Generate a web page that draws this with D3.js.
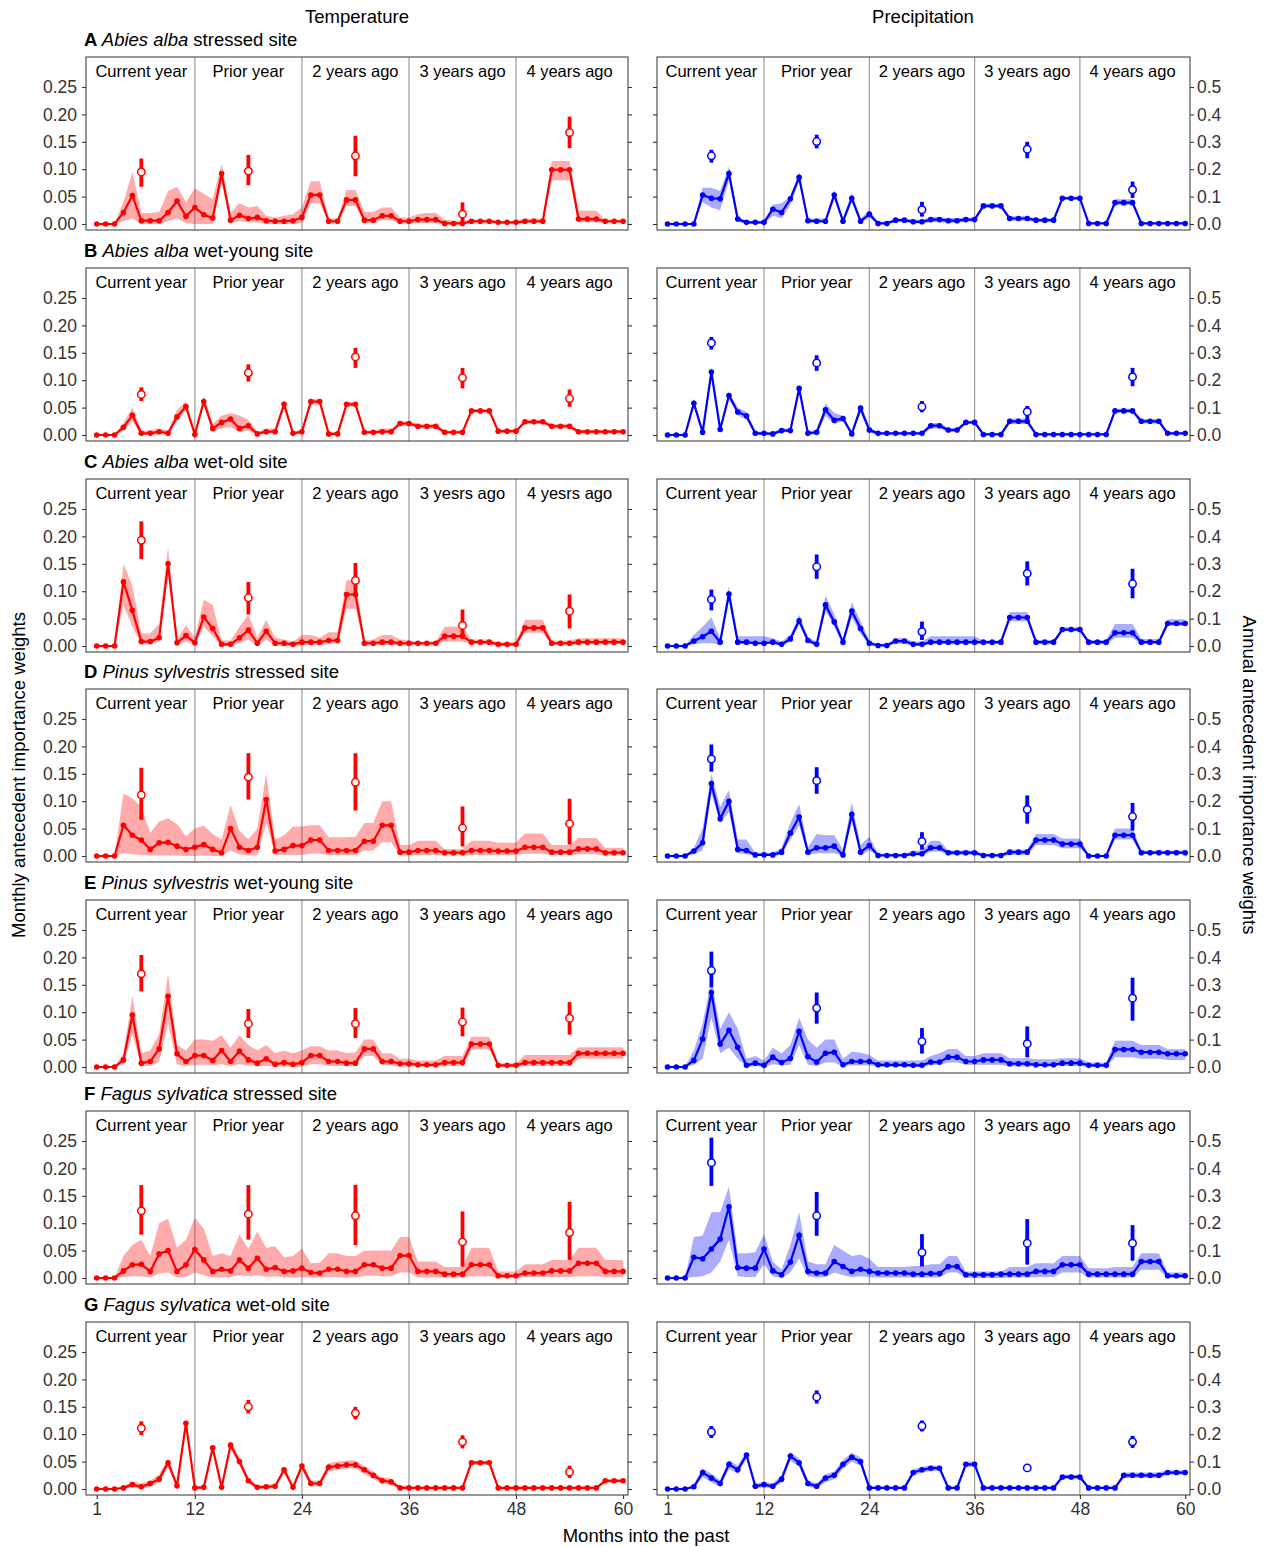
<!DOCTYPE html>
<html><head><meta charset="utf-8">
<script src="https://cdn.jsdelivr.net/npm/d3@7"></script>
<style>body{margin:0;background:#fff;} svg text{font-family:"Liberation Sans",Arial,Helvetica,sans-serif;}</style>
</head><body><svg id="chart" width="1269" height="1547"></svg>
<script>
// ---------------- DATA ----------------
const months = d3.range(1, 61);
const annualMonths = [6, 18, 30, 42, 54];
const xTicks = [1, 12, 24, 36, 48, 60];
const yTicksMonthly = [0, 0.05, 0.10, 0.15, 0.20, 0.25];
const yTicksAnnual = [0, 0.1, 0.2, 0.3, 0.4, 0.5];
const yearLabels = ["Current year", "Prior year", "2 years ago", "3 years ago", "4 years ago"];
const yearLabelsTypo = ["Current year", "Prior year", "2 years ago", "3 yesrs ago", "4 yesrs ago"];
const rowLetters = ["A", "B", "C", "D", "E", "F", "G"];
const rowSpecies = ["Abies alba", "Abies alba", "Abies alba", "Pinus sylvestris", "Pinus sylvestris", "Fagus sylvatica", "Fagus sylvatica"];
const rowSites = ["stressed site", "wet-young site", "wet-old site", "stressed site", "wet-young site", "stressed site", "wet-old site"];
const columnTitles = ["Temperature", "Precipitation"];

// ---- A: Abies alba stressed ----
const tempMeanA = [0,0,0,0.021,0.052,0.006,0.006,0.006,0.021,0.042,0.014,0.030, 0.017,0.011,0.092,0.007,0.016,0.010,0.012,0.006,0.005,0.005,0.006,0.012, 0.053,0.053,0.005,0.005,0.044,0.044,0.007,0.007,0.015,0.015,0.005,0.005, 0.008,0.008,0.008,0.001,0.001,0.001,0.005,0.005,0.005,0.003,0.003,0.003, 0.005,0.005,0.005,0.099,0.099,0.099,0.009,0.009,0.009,0.005,0.005,0.005];
const tempLoA = [0,0,0,0.005,0.01,0,0,0,0.005,0.01,0.002,0, 0,0,0.075,0.002,0.005,0.003,0.003,0,0,0,0,0.002, 0.038,0.038,0.001,0.001,0.033,0.033,0.002,0.002,0.007,0.007,0.001,0.001, 0.002,0.002,0.002,0,0,0,0.001,0.001,0.001,0,0,0, 0.002,0.002,0.002,0.08,0.08,0.08,0.003,0.003,0.003,0.002,0.002,0.002];
const tempHiA = [0.001,0.001,0.001,0.04,0.095,0.02,0.02,0.022,0.06,0.068,0.04,0.065, 0.055,0.045,0.11,0.02,0.038,0.03,0.033,0.015,0.012,0.015,0.018,0.03, 0.078,0.078,0.01,0.01,0.062,0.062,0.022,0.022,0.03,0.03,0.012,0.012, 0.018,0.02,0.02,0.008,0.006,0.006,0.008,0.008,0.008,0.005,0.005,0.005, 0.01,0.01,0.01,0.115,0.115,0.115,0.024,0.024,0.024,0.008,0.008,0.008];
const tempAnnMidA = [0.19,0.193,0.249,0.036,0.334];
const tempAnnLoA = [0.136,0.142,0.174,0.0,0.277];
const tempAnnHiA = [0.239,0.252,0.322,0.079,0.392];
const precMeanA = [0,0,0,0,0.053,0.047,0.046,0.092,0.009,0.003,0.003,0.003, 0.027,0.021,0.046,0.085,0.006,0.005,0.005,0.053,0.005,0.047,0.005,0.018, 0.001,0.001,0.007,0.007,0.004,0.004,0.008,0.008,0.006,0.006,0.008,0.008, 0.033,0.033,0.033,0.010,0.010,0.010,0.007,0.007,0.007,0.047,0.047,0.047, 0.001,0.001,0.001,0.039,0.039,0.039,0.001,0.001,0.001,0.001,0.001,0.001];
const precLoA = [0,0,0,0,0.04,0.03,0.025,0.08,0.004,0,0,0, 0.015,0.01,0.035,0.078,0.002,0.002,0.002,0.045,0.002,0.04,0.002,0.012, 0,0,0.003,0.003,0.001,0.001,0.003,0.003,0.002,0.002,0.004,0.004, 0.029,0.029,0.029,0.006,0.006,0.006,0.003,0.003,0.003,0.044,0.044,0.044, 0,0,0,0.034,0.034,0.034,0,0,0,0,0,0];
const precHiA = [0.001,0.001,0.001,0.001,0.066,0.066,0.06,0.105,0.014,0.005,0.005,0.005, 0.035,0.038,0.05,0.095,0.01,0.01,0.01,0.062,0.01,0.057,0.01,0.025, 0.004,0.004,0.01,0.01,0.008,0.008,0.013,0.013,0.011,0.011,0.012,0.012, 0.037,0.037,0.037,0.014,0.014,0.014,0.01,0.01,0.01,0.05,0.05,0.05, 0.003,0.003,0.003,0.045,0.045,0.045,0.003,0.003,0.003,0.003,0.003,0.003];
const precAnnMidA = [0.249,0.301,0.052,0.273,0.125];
const precAnnLoA = [0.224,0.276,0.027,0.24,0.095];
const precAnnHiA = [0.271,0.326,0.081,0.30,0.155];

// ---- B: Abies alba wet-young ----
const tempMeanB = [0,0,0,0.014,0.036,0.003,0.003,0.006,0.003,0.033,0.052,0.001, 0.061,0.012,0.023,0.029,0.012,0.017,0.002,0.006,0.006,0.056,0.003,0.006, 0.061,0.061,0.002,0.002,0.056,0.056,0.005,0.005,0.006,0.006,0.021,0.021, 0.016,0.016,0.016,0.005,0.005,0.005,0.044,0.044,0.044,0.007,0.007,0.007, 0.024,0.024,0.024,0.016,0.016,0.016,0.006,0.006,0.006,0.006,0.006,0.006];
const tempLoB = [0,0,0,0.008,0.025,0,0,0.002,0.001,0.025,0.045,0, 0.055,0.006,0.012,0.015,0.005,0.008,0,0.003,0.003,0.05,0,0.003, 0.055,0.055,0,0,0.052,0.052,0.002,0.002,0.003,0.003,0.017,0.017, 0.012,0.012,0.012,0.002,0.002,0.002,0.041,0.041,0.041,0.004,0.004,0.004, 0.02,0.02,0.02,0.012,0.012,0.012,0.003,0.003,0.003,0.003,0.003,0.003];
const tempHiB = [0.001,0.001,0.001,0.022,0.05,0.008,0.008,0.012,0.008,0.045,0.062,0.003, 0.072,0.02,0.035,0.04,0.035,0.028,0.006,0.012,0.012,0.065,0.006,0.01, 0.066,0.066,0.005,0.005,0.06,0.06,0.008,0.008,0.012,0.012,0.025,0.025, 0.02,0.02,0.02,0.008,0.008,0.008,0.047,0.047,0.047,0.01,0.01,0.01, 0.028,0.028,0.028,0.02,0.02,0.02,0.009,0.009,0.009,0.009,0.009,0.009];
const tempAnnMidB = [0.148,0.227,0.285,0.209,0.133];
const tempAnnLoB = [0.124,0.195,0.245,0.170,0.103];
const tempAnnHiB = [0.174,0.258,0.318,0.245,0.166];
const precMeanB = [0,0,0,0.058,0.005,0.115,0.010,0.072,0.042,0.035,0.003,0.003, 0.002,0.008,0.008,0.085,0.003,0.005,0.046,0.027,0.030,0.002,0.049,0.009, 0.003,0.003,0.003,0.003,0.003,0.003,0.017,0.017,0.009,0.009,0.023,0.023, 0.001,0.001,0.001,0.025,0.025,0.025,0.001,0.001,0.001,0.001,0.001,0.001, 0.001,0.001,0.001,0.044,0.044,0.044,0.025,0.025,0.025,0.003,0.003,0.003];
const precLoB = [0,0,0,0.052,0.002,0.107,0.006,0.066,0.036,0.028,0,0, 0,0.005,0.005,0.08,0.001,0.001,0.035,0.02,0.025,0,0.04,0.004, 0.001,0.001,0.001,0.001,0.001,0.001,0.012,0.012,0.006,0.006,0.02,0.02, 0,0,0,0.02,0.02,0.02,0,0,0,0,0,0, 0,0,0,0.04,0.04,0.04,0.021,0.021,0.021,0.001,0.001,0.001];
const precHiB = [0.001,0.001,0.001,0.065,0.01,0.125,0.015,0.078,0.05,0.042,0.006,0.006, 0.005,0.012,0.012,0.09,0.008,0.008,0.058,0.04,0.035,0.005,0.057,0.015, 0.005,0.005,0.005,0.005,0.005,0.005,0.022,0.022,0.013,0.013,0.026,0.026, 0.003,0.003,0.003,0.03,0.03,0.03,0.003,0.003,0.003,0.003,0.003,0.003, 0.003,0.003,0.003,0.048,0.048,0.048,0.029,0.029,0.029,0.005,0.005,0.005];
const precAnnMidB = [0.336,0.263,0.103,0.085,0.212];
const precAnnLoB = [0.312,0.234,0.083,0.057,0.178];
const precAnnHiB = [0.358,0.291,0.124,0.106,0.245];

// ---- C: Abies alba wet-old ----
const tempMeanC = [0,0,0,0.117,0.065,0.008,0.008,0.015,0.150,0.006,0.019,0.006, 0.053,0.032,0.003,0.003,0.015,0.029,0.005,0.027,0.005,0.005,0.003,0.007, 0.007,0.007,0.010,0.010,0.094,0.094,0.005,0.005,0.007,0.007,0.005,0.005, 0.005,0.005,0.005,0.018,0.018,0.018,0.007,0.007,0.007,0.003,0.003,0.003, 0.033,0.033,0.033,0.005,0.005,0.005,0.007,0.007,0.007,0.007,0.007,0.007];
const tempLoC = [0,0,0,0.075,0.035,0.003,0.003,0.008,0.13,0.002,0.008,0.002, 0.035,0.018,0,0,0.005,0.012,0,0.012,0,0,0,0.002, 0.002,0.002,0.004,0.004,0.068,0.068,0.001,0.001,0.002,0.002,0.001,0.001, 0.002,0.002,0.002,0.008,0.008,0.008,0.003,0.003,0.003,0,0,0, 0.024,0.024,0.024,0.001,0.001,0.001,0.003,0.003,0.003,0.003,0.003,0.003];
const tempHiC = [0.001,0.001,0.001,0.15,0.11,0.023,0.023,0.04,0.18,0.012,0.038,0.015, 0.085,0.075,0.01,0.01,0.035,0.058,0.015,0.048,0.015,0.012,0.008,0.02, 0.02,0.015,0.025,0.025,0.12,0.12,0.01,0.012,0.02,0.02,0.012,0.01, 0.008,0.008,0.008,0.035,0.035,0.035,0.012,0.012,0.012,0.007,0.007,0.007, 0.048,0.048,0.048,0.01,0.01,0.01,0.014,0.014,0.014,0.014,0.014,0.014];
const tempAnnMidC = [0.386,0.176,0.239,0.075,0.127];
const tempAnnLoC = [0.318,0.115,0.188,0.03,0.064];
const tempAnnHiC = [0.455,0.234,0.303,0.133,0.188];
const precMeanC = [0,0,0,0.009,0.017,0.027,0.007,0.095,0.007,0.007,0.005,0.005, 0.007,0.003,0.013,0.046,0.010,0.003,0.075,0.044,0.007,0.064,0.032,0.005, 0.001,0.001,0.009,0.009,0.003,0.003,0.007,0.007,0.007,0.007,0.007,0.007, 0.007,0.007,0.007,0.052,0.052,0.052,0.007,0.007,0.007,0.030,0.030,0.030, 0.007,0.007,0.007,0.024,0.024,0.024,0.007,0.007,0.007,0.041,0.041,0.041];
const precLoC = [0,0,0,0.003,0.005,0.005,0.002,0.085,0.003,0.003,0.003,0.003, 0.004,0,0.008,0.04,0.006,0,0.065,0.035,0.003,0.052,0.022,0.002, 0,0,0.004,0.004,0,0,0.003,0.003,0.003,0.003,0.003,0.003, 0.003,0.003,0.003,0.045,0.045,0.045,0.003,0.003,0.003,0.027,0.027,0.027, 0.003,0.003,0.003,0.015,0.015,0.015,0.003,0.003,0.003,0.037,0.037,0.037];
const precHiC = [0.001,0.001,0.001,0.02,0.035,0.052,0.015,0.11,0.018,0.018,0.018,0.018, 0.014,0.008,0.02,0.057,0.016,0.008,0.092,0.058,0.012,0.08,0.045,0.01, 0.004,0.004,0.014,0.014,0.008,0.008,0.018,0.018,0.018,0.018,0.018,0.018, 0.01,0.01,0.01,0.062,0.062,0.062,0.011,0.011,0.011,0.034,0.034,0.034, 0.011,0.011,0.011,0.04,0.04,0.04,0.013,0.013,0.013,0.049,0.049,0.049];
const precAnnMidC = [0.17,0.289,0.052,0.265,0.227];
const precAnnLoC = [0.13,0.245,0.022,0.221,0.174];
const precAnnHiC = [0.206,0.334,0.089,0.309,0.282];

// ---- D: Pinus sylvestris stressed ----
const tempMeanD = [0,0,0,0.056,0.038,0.029,0.012,0.024,0.025,0.018,0.012,0.016, 0.021,0.012,0.006,0.050,0.016,0.010,0.016,0.103,0.009,0.012,0.019,0.019, 0.029,0.029,0.010,0.010,0.010,0.010,0.027,0.027,0.056,0.056,0.007,0.007, 0.010,0.010,0.010,0.006,0.006,0.006,0.010,0.010,0.010,0.009,0.009,0.009, 0.016,0.016,0.016,0.007,0.007,0.007,0.013,0.013,0.013,0.006,0.006,0.006];
const tempLoD = [0,0,0,0.005,0.003,0.002,0.001,0.001,0.001,0.001,0,0, 0.001,0,0,0.01,0.003,0.001,0.001,0.06,0.002,0.002,0.002,0.002, 0.004,0.004,0.002,0.002,0.002,0.002,0.01,0.01,0.025,0.025,0.001,0.001, 0.002,0.002,0.002,0.001,0.001,0.001,0.002,0.002,0.002,0.002,0.002,0.002, 0.004,0.004,0.004,0.002,0.002,0.002,0.003,0.003,0.003,0.001,0.001,0.001];
const tempHiD = [0.001,0.001,0.001,0.114,0.105,0.09,0.042,0.063,0.069,0.058,0.036,0.05, 0.055,0.04,0.03,0.093,0.046,0.03,0.05,0.15,0.03,0.038,0.054,0.054, 0.056,0.056,0.034,0.034,0.034,0.035,0.06,0.06,0.1,0.1,0.02,0.02, 0.028,0.028,0.028,0.013,0.013,0.013,0.028,0.028,0.028,0.024,0.024,0.024, 0.041,0.041,0.041,0.02,0.02,0.02,0.033,0.033,0.033,0.015,0.015,0.015];
const tempAnnMidD = [0.223,0.288,0.269,0.102,0.118];
const tempAnnLoD = [0.132,0.206,0.166,0.035,0.042];
const tempAnnHiD = [0.322,0.375,0.375,0.181,0.209];
const precMeanD = [0,0,0,0.009,0.024,0.132,0.068,0.100,0.012,0.010,0.002,0.002, 0.002,0.007,0.042,0.071,0.007,0.015,0.015,0.018,0.002,0.076,0.007,0.019, 0.001,0.001,0.001,0.001,0.004,0.004,0.015,0.015,0.006,0.006,0.006,0.006, 0.001,0.001,0.001,0.007,0.007,0.007,0.029,0.029,0.029,0.022,0.022,0.022, 0,0,0,0.038,0.038,0.038,0.006,0.006,0.006,0.006,0.006,0.006];
const precLoD = [0,0,0,0.003,0.01,0.115,0.06,0.08,0.005,0.003,0,0, 0,0.002,0.03,0.055,0.002,0.005,0.005,0.005,0,0.063,0.002,0.01, 0,0,0,0,0.001,0.001,0.008,0.008,0.002,0.002,0.002,0.002, 0,0,0,0.002,0.002,0.002,0.02,0.02,0.02,0.014,0.014,0.014, 0,0,0,0.03,0.03,0.03,0.003,0.003,0.003,0.003,0.003,0.003];
const precHiD = [0.002,0.002,0.002,0.015,0.05,0.15,0.09,0.12,0.03,0.03,0.006,0.006, 0.006,0.015,0.06,0.095,0.016,0.04,0.038,0.038,0.012,0.098,0.02,0.035, 0.004,0.004,0.004,0.004,0.01,0.01,0.028,0.028,0.01,0.01,0.01,0.01, 0.004,0.004,0.004,0.012,0.012,0.012,0.04,0.04,0.04,0.032,0.032,0.032, 0.002,0.002,0.002,0.05,0.05,0.05,0.01,0.01,0.01,0.01,0.01,0.01];
const precAnnMidD = [0.354,0.275,0.053,0.17,0.144];
const precAnnLoD = [0.308,0.227,0.023,0.118,0.093];
const precAnnHiD = [0.407,0.324,0.087,0.221,0.194];

// ---- E: Pinus sylvestris wet-young ----
const tempMeanE = [0,0,0,0.013,0.095,0.007,0.010,0.033,0.129,0.024,0.010,0.021, 0.021,0.012,0.030,0.010,0.029,0.013,0.007,0.015,0.005,0.008,0.005,0.008, 0.021,0.021,0.010,0.010,0.007,0.007,0.033,0.033,0.010,0.010,0.006,0.006, 0.004,0.004,0.004,0.008,0.008,0.008,0.042,0.042,0.042,0.003,0.003,0.003, 0.008,0.008,0.008,0.008,0.008,0.008,0.025,0.025,0.025,0.025,0.025,0.025];
const tempLoE = [0,0,0,0.005,0.06,0.002,0.002,0.01,0.08,0.005,0.002,0.004, 0.004,0.003,0.005,0.002,0.005,0.003,0.001,0.002,0.001,0.001,0,0.001, 0.005,0.005,0.002,0.002,0.002,0.002,0.02,0.02,0.003,0.003,0.001,0.001, 0.001,0.001,0.001,0.002,0.002,0.002,0.032,0.032,0.032,0,0,0, 0.002,0.002,0.002,0.002,0.002,0.002,0.015,0.015,0.015,0.015,0.015,0.015];
const tempHiE = [0.001,0.001,0.001,0.025,0.13,0.025,0.03,0.06,0.17,0.04,0.03,0.05, 0.05,0.048,0.058,0.035,0.058,0.04,0.03,0.04,0.025,0.03,0.025,0.03, 0.038,0.038,0.03,0.03,0.025,0.027,0.05,0.05,0.025,0.025,0.015,0.015, 0.012,0.012,0.012,0.02,0.02,0.02,0.055,0.055,0.055,0.007,0.007,0.007, 0.022,0.022,0.022,0.022,0.022,0.022,0.036,0.036,0.036,0.036,0.036,0.036];
const tempAnnMidE = [0.34,0.158,0.158,0.164,0.178];
const tempAnnLoE = [0.276,0.106,0.106,0.112,0.118];
const tempAnnHiE = [0.409,0.212,0.215,0.217,0.237];
const precMeanE = [0,0,0,0.012,0.051,0.136,0.042,0.067,0.036,0.003,0.007,0.003, 0.018,0.008,0.016,0.065,0.019,0.009,0.025,0.027,0.004,0.010,0.010,0.010, 0.004,0.004,0.004,0.004,0.003,0.003,0.009,0.009,0.018,0.018,0.010,0.010, 0.013,0.013,0.013,0.006,0.006,0.006,0.004,0.004,0.004,0.007,0.007,0.007, 0.003,0.003,0.003,0.032,0.032,0.032,0.027,0.027,0.027,0.024,0.024,0.024];
const precLoE = [0,0,0,0.004,0.015,0.09,0.025,0.035,0.015,0,0.002,0, 0.005,0.003,0.004,0.04,0.004,0.002,0.008,0.008,0.001,0.003,0.003,0.003, 0,0,0,0,0,0,0.003,0.004,0.008,0.008,0.004,0.004, 0.004,0.004,0.004,0.001,0.001,0.001,0.001,0.001,0.001,0.002,0.002,0.002, 0,0,0,0.018,0.018,0.018,0.015,0.015,0.015,0.013,0.013,0.013];
const precHiE = [0.001,0.001,0.001,0.03,0.08,0.16,0.07,0.1,0.07,0.015,0.02,0.012, 0.035,0.025,0.04,0.09,0.05,0.035,0.05,0.05,0.015,0.028,0.026,0.022, 0.012,0.012,0.012,0.012,0.012,0.012,0.02,0.025,0.033,0.033,0.02,0.02, 0.025,0.025,0.025,0.016,0.016,0.016,0.014,0.014,0.014,0.016,0.016,0.016, 0.008,0.008,0.008,0.048,0.048,0.048,0.04,0.04,0.04,0.033,0.033,0.033];
const precAnnMidE = [0.352,0.215,0.093,0.085,0.251];
const precAnnLoE = [0.291,0.158,0.049,0.035,0.169];
const precAnnHiE = [0.421,0.272,0.142,0.148,0.326];

// ---- F: Fagus sylvatica stressed ----
const tempMeanF = [0,0,0,0.013,0.024,0.025,0.012,0.044,0.050,0.012,0.024,0.052, 0.033,0.012,0.016,0.013,0.033,0.018,0.036,0.016,0.019,0.012,0.013,0.018, 0.010,0.009,0.016,0.016,0.012,0.012,0.024,0.024,0.018,0.018,0.041,0.041, 0.012,0.012,0.012,0.007,0.007,0.007,0.024,0.024,0.024,0.004,0.004,0.004, 0.009,0.009,0.009,0.013,0.013,0.013,0.027,0.027,0.027,0.012,0.012,0.012];
const tempLoF = [0,0,0,0.002,0.003,0.003,0.001,0.008,0.01,0.001,0.002,0.01, 0.005,0.001,0.002,0.002,0.005,0.003,0.005,0.002,0.003,0.001,0.001,0.002, 0.001,0.001,0.002,0.002,0.001,0.001,0.004,0.004,0.003,0.003,0.01,0.01, 0.001,0.001,0.001,0.001,0.001,0.001,0.003,0.003,0.003,0,0,0, 0.002,0.002,0.002,0.002,0.002,0.002,0.003,0.003,0.003,0.002,0.002,0.002];
const tempHiF = [0.001,0.001,0.001,0.04,0.06,0.07,0.04,0.1,0.108,0.055,0.07,0.11, 0.09,0.04,0.045,0.04,0.08,0.053,0.085,0.055,0.058,0.038,0.04,0.054, 0.027,0.028,0.045,0.045,0.04,0.04,0.05,0.05,0.05,0.05,0.075,0.075, 0.03,0.03,0.03,0.02,0.02,0.02,0.055,0.055,0.055,0.012,0.012,0.012, 0.025,0.025,0.025,0.033,0.033,0.033,0.055,0.055,0.055,0.033,0.033,0.033];
const tempAnnMidF = [0.245,0.233,0.227,0.132,0.166];
const tempAnnLoF = [0.158,0.140,0.120,0.041,0.066];
const tempAnnHiF = [0.339,0.339,0.340,0.243,0.278];
const precMeanF = [0,0,0,0.038,0.035,0.053,0.071,0.130,0.019,0.018,0.018,0.053, 0.013,0.006,0.029,0.078,0.012,0.009,0.009,0.030,0.021,0.012,0.016,0.012, 0.009,0.009,0.009,0.009,0.007,0.007,0.008,0.008,0.021,0.021,0.006,0.006, 0.006,0.006,0.007,0.007,0.007,0.007,0.012,0.012,0.012,0.024,0.024,0.024, 0.007,0.007,0.007,0.007,0.007,0.007,0.030,0.030,0.030,0.004,0.004,0.004];
const precLoF = [0,0,0,0.002,0.003,0.01,0.03,0.07,0.003,0.002,0.002,0.025, 0.003,0,0.01,0.035,0.003,0.001,0.002,0.01,0.005,0.002,0.003,0.002, 0.001,0.001,0.001,0.001,0.001,0.001,0.001,0.001,0.01,0.01,0,0, 0,0,0,0.001,0.001,0.001,0.002,0.002,0.002,0.01,0.01,0.01, 0.001,0.001,0.001,0.001,0.001,0.001,0.015,0.015,0.015,0,0,0];
const precHiF = [0.001,0.001,0.001,0.075,0.077,0.12,0.12,0.167,0.045,0.045,0.047,0.08, 0.03,0.015,0.06,0.12,0.03,0.025,0.025,0.06,0.05,0.04,0.043,0.035, 0.02,0.02,0.02,0.02,0.022,0.022,0.025,0.025,0.04,0.04,0.012,0.012, 0.012,0.012,0.012,0.02,0.02,0.02,0.027,0.027,0.027,0.04,0.04,0.04, 0.018,0.018,0.018,0.02,0.02,0.02,0.045,0.045,0.045,0.01,0.01,0.01];
const precAnnMidF = [0.421,0.227,0.093,0.127,0.127];
const precAnnLoF = [0.336,0.154,0.042,0.049,0.063];
const precAnnHiF = [0.512,0.314,0.160,0.215,0.193];

// ---- G: Fagus sylvatica wet-old ----
const tempMeanG = [0,0,0,0.002,0.008,0.004,0.010,0.018,0.048,0.006,0.120,0.002, 0.003,0.075,0.003,0.080,0.050,0.015,0.003,0.004,0.005,0.035,0.003,0.042, 0.010,0.010,0.040,0.042,0.044,0.044,0.035,0.025,0.015,0.013,0.002,0.002, 0.002,0.002,0.002,0.002,0.002,0.002,0.048,0.048,0.048,0.002,0.002,0.002, 0.002,0.002,0.002,0.002,0.002,0.002,0.002,0.002,0.002,0.015,0.015,0.015];
const tempLoG = [0,0,0,0,0.003,0.001,0.004,0.012,0.04,0.002,0.112,0, 0,0.068,0,0.073,0.043,0.01,0,0.001,0.002,0.028,0,0.035, 0.005,0.005,0.033,0.035,0.038,0.038,0.028,0.018,0.01,0.008,0,0, 0,0,0,0,0,0,0.044,0.044,0.044,0,0,0, 0,0,0,0,0,0,0,0,0,0.012,0.012,0.012];
const tempHiG = [0.001,0.001,0.001,0.005,0.014,0.01,0.016,0.026,0.056,0.01,0.128,0.005, 0.006,0.082,0.006,0.087,0.057,0.021,0.006,0.008,0.009,0.042,0.006,0.049, 0.015,0.016,0.047,0.05,0.052,0.052,0.042,0.032,0.021,0.019,0.005,0.005, 0.004,0.004,0.004,0.004,0.004,0.004,0.052,0.052,0.052,0.004,0.004,0.004, 0.004,0.004,0.004,0.004,0.004,0.004,0.004,0.004,0.004,0.018,0.018,0.018];
const tempAnnMidG = [0.222,0.30,0.277,0.172,0.062];
const tempAnnLoG = [0.197,0.276,0.254,0.148,0.040];
const tempAnnHiG = [0.247,0.325,0.300,0.196,0.085];
const precMeanG = [0,0,0,0.004,0.030,0.020,0.010,0.045,0.035,0.062,0.005,0.008, 0.005,0.018,0.060,0.048,0.010,0.005,0.020,0.025,0.045,0.058,0.050,0.002, 0.002,0.002,0.002,0.002,0.030,0.035,0.038,0.038,0.002,0.002,0.045,0.045, 0.002,0.002,0.002,0.002,0.002,0.002,0.002,0.002,0.002,0.022,0.022,0.022, 0.002,0.002,0.002,0.002,0.025,0.025,0.025,0.025,0.025,0.030,0.030,0.030];
const precLoG = [0,0,0,0,0.022,0.012,0.004,0.037,0.028,0.055,0.001,0.003, 0.001,0.012,0.052,0.04,0.004,0.001,0.013,0.018,0.037,0.05,0.042,0, 0,0,0,0,0.024,0.03,0.033,0.033,0,0,0.04,0.04, 0,0,0,0,0,0,0,0,0,0.018,0.018,0.018, 0,0,0,0,0.02,0.02,0.02,0.02,0.02,0.026,0.026,0.026];
const precHiG = [0.001,0.001,0.001,0.008,0.038,0.028,0.016,0.053,0.043,0.068,0.01,0.013, 0.01,0.025,0.067,0.056,0.016,0.01,0.027,0.032,0.053,0.066,0.058,0.005, 0.004,0.004,0.004,0.004,0.036,0.04,0.043,0.043,0.004,0.004,0.05,0.05, 0.004,0.004,0.004,0.004,0.004,0.004,0.004,0.004,0.004,0.026,0.026,0.026, 0.004,0.004,0.004,0.004,0.03,0.03,0.03,0.03,0.03,0.034,0.034,0.034];
const precAnnMidG = [0.208,0.336,0.23,0.077,0.172];
const precAnnLoG = [0.186,0.312,0.21,0.068,0.150];
const precAnnHiG = [0.230,0.360,0.25,0.086,0.194];

// ---------------- ASSEMBLY ----------------
const tempRows = [
  [tempMeanA,tempLoA,tempHiA,tempAnnMidA,tempAnnLoA,tempAnnHiA],
  [tempMeanB,tempLoB,tempHiB,tempAnnMidB,tempAnnLoB,tempAnnHiB],
  [tempMeanC,tempLoC,tempHiC,tempAnnMidC,tempAnnLoC,tempAnnHiC],
  [tempMeanD,tempLoD,tempHiD,tempAnnMidD,tempAnnLoD,tempAnnHiD],
  [tempMeanE,tempLoE,tempHiE,tempAnnMidE,tempAnnLoE,tempAnnHiE],
  [tempMeanF,tempLoF,tempHiF,tempAnnMidF,tempAnnLoF,tempAnnHiF],
  [tempMeanG,tempLoG,tempHiG,tempAnnMidG,tempAnnLoG,tempAnnHiG]];
const precRows = [
  [precMeanA,precLoA,precHiA,precAnnMidA,precAnnLoA,precAnnHiA],
  [precMeanB,precLoB,precHiB,precAnnMidB,precAnnLoB,precAnnHiB],
  [precMeanC,precLoC,precHiC,precAnnMidC,precAnnLoC,precAnnHiC],
  [precMeanD,precLoD,precHiD,precAnnMidD,precAnnLoD,precAnnHiD],
  [precMeanE,precLoE,precHiE,precAnnMidE,precAnnLoE,precAnnHiE],
  [precMeanF,precLoF,precHiF,precAnnMidF,precAnnLoF,precAnnHiF],
  [precMeanG,precLoG,precHiG,precAnnMidG,precAnnLoG,precAnnHiG]];

// ---------------- LAYOUT ----------------
const svg = d3.select("#chart");
const FONT = '"Liberation Sans", Arial, Helvetica, sans-serif';
const panelTops = [57, 268, 479, 689, 900, 1111, 1322];
const panelH = 173;
const colDefs = [
  {x0: 86, x1: 628, color: "#FF0000", rows: tempRows, titleX: 357},
  {x0: 657, x1: 1190, color: "#0000FF", rows: precRows, titleX: 923}
];
const xDomain = [-0.2, 60.55];
const yDomain = [-6/548, 167/548];
const y2Domain = [yDomain[0]*2, yDomain[1]*2];

svg.append("rect").attr("width", 1269).attr("height", 1547).attr("fill", "#fff");

colDefs.forEach((c, ci) => {
  svg.append("text").attr("x", c.titleX).attr("y", 23).attr("text-anchor", "middle")
    .style("font-size", "18.5px").style("font-family", FONT).attr("fill", "#000").text(columnTitles[ci]);
});

function styleAxis(g) {
  g.select(".domain").remove();
  g.selectAll(".tick line").attr("stroke", "#333").attr("stroke-width", 1.1);
  g.selectAll(".tick text").attr("fill", "#333").style("font-size", "17.5px").style("font-family", FONT);
}

panelTops.forEach((top, ri) => {
  const lab = svg.append("text").attr("x", 84).attr("y", top - 11)
    .style("font-size", "18.5px").style("font-family", FONT).attr("fill", "#000");
  lab.append("tspan").attr("font-weight", "bold").text(rowLetters[ri] + " ");
  lab.append("tspan").attr("font-style", "italic").text(rowSpecies[ri]);
  lab.append("tspan").text(" " + rowSites[ri]);

  colDefs.forEach((c, ci) => {
    const [mean, lo, hi, aMid, aLo, aHi] = c.rows[ri];
    const x = d3.scaleLinear().domain(xDomain).range([c.x0, c.x1]);
    const y = d3.scaleLinear().domain(yDomain).range([top + panelH, top]);
    const y2 = d3.scaleLinear().domain(y2Domain).range([top + panelH, top]);
    const g = svg.append("g");

    g.append("rect").attr("x", c.x0).attr("y", top).attr("width", c.x1 - c.x0).attr("height", panelH)
      .attr("fill", "#fff");

    g.selectAll("line.sep").data([12, 24, 36, 48]).join("line").attr("class", "sep")
      .attr("x1", d => x(d)).attr("x2", d => x(d)).attr("y1", top).attr("y2", top + panelH)
      .attr("stroke", "#9a9a9a").attr("stroke-width", 1.2);

    const pts = months.map((m, i) => ({m, v: mean[i], lo: lo[i], hi: hi[i]}));
    g.append("path").datum(pts)
      .attr("d", d3.area().x(d => x(d.m)).y0(d => y(d.lo)).y1(d => y(d.hi)))
      .attr("fill", c.color).attr("fill-opacity", 0.33).attr("stroke", "none");
    g.append("path").datum(pts)
      .attr("d", d3.line().x(d => x(d.m)).y(d => y(d.v)))
      .attr("fill", "none").attr("stroke", c.color).attr("stroke-width", 2.2);
    g.selectAll("circle.pt").data(pts).join("circle").attr("class", "pt")
      .attr("cx", d => x(d.m)).attr("cy", d => y(d.v)).attr("r", 2.8).attr("fill", c.color);

    const ann = annualMonths.map((m, i) => ({m, v: aMid[i], lo: aLo[i], hi: aHi[i]}));
    g.selectAll("line.ci").data(ann).join("line").attr("class", "ci")
      .attr("x1", d => x(d.m)).attr("x2", d => x(d.m)).attr("y1", d => y2(d.lo)).attr("y2", d => y2(d.hi))
      .attr("stroke", c.color).attr("stroke-width", 3.8);
    g.selectAll("circle.ann").data(ann).join("circle").attr("class", "ann")
      .attr("cx", d => x(d.m)).attr("cy", d => y2(d.v)).attr("r", 3.7)
      .attr("fill", "#fff").attr("stroke", c.color).attr("stroke-width", 1.5);

    const labels = (ri === 2 && ci === 0) ? yearLabelsTypo : yearLabels;
    g.selectAll("text.yl").data(labels).join("text").attr("class", "yl")
      .attr("x", (d, i) => x(annualMonths[i])).attr("y", top + 20).attr("text-anchor", "middle")
      .style("font-size", "16.5px").style("font-family", FONT).attr("fill", "#000").text(d => d);

    g.append("rect").attr("x", c.x0).attr("y", top).attr("width", c.x1 - c.x0).attr("height", panelH)
      .attr("fill", "none").attr("stroke", "#444").attr("stroke-width", 1.1);

    const left = svg.append("g").attr("transform", `translate(${c.x0},0)`)
      .call(d3.axisLeft(y).tickValues(yTicksMonthly).tickSize(4).tickPadding(5)
        .tickFormat(ci === 0 ? d3.format(".2f") : () => ""));
    styleAxis(left);
    const right = svg.append("g").attr("transform", `translate(${c.x1},0)`)
      .call(d3.axisRight(y2).tickValues(yTicksAnnual).tickSize(4).tickPadding(3)
        .tickFormat(ci === 1 ? d3.format(".1f") : () => ""));
    styleAxis(right);
    if (ri === panelTops.length - 1) {
      const bottom = svg.append("g").attr("transform", `translate(0,${top + panelH})`)
        .call(d3.axisBottom(x).tickValues(xTicks).tickSize(4).tickPadding(4));
      styleAxis(bottom);
    }
  });
});

svg.append("text").attr("x", 646).attr("y", 1542).attr("text-anchor", "middle")
  .style("font-size", "18.5px").style("font-family", FONT).text("Months into the past");
svg.append("text").attr("transform", "translate(25,775) rotate(-90)").attr("text-anchor", "middle")
  .style("font-size", "18.5px").style("font-family", FONT).text("Monthly antecedent importance weights");
svg.append("text").attr("transform", "translate(1243,775) rotate(90)").attr("text-anchor", "middle")
  .style("font-size", "18.5px").style("font-family", FONT).text("Annual antecedent importance weights");
</script></body></html>
